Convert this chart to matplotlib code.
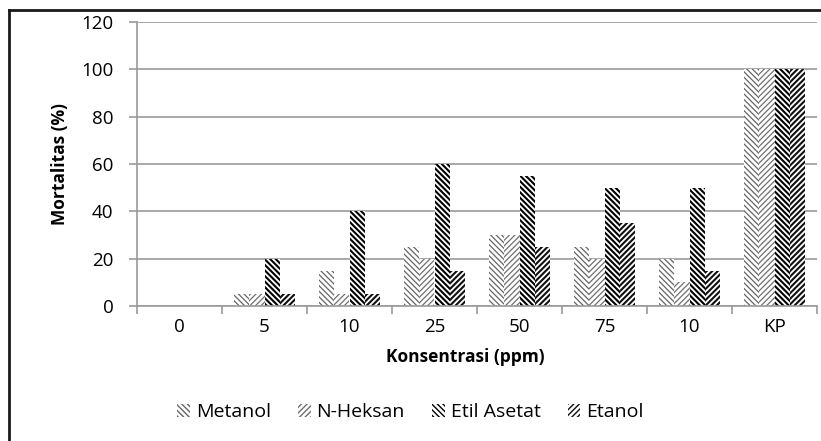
import numpy as np
import matplotlib
matplotlib.use("Agg")
import matplotlib.pyplot as plt
from matplotlib.lines import Line2D

plt.rcParams["font.family"] = ["Open Sans", "DejaVu Sans"]

categories = ["0", "5", "10", "25", "50", "75", "10", "KP"]
metanol = [0, 5, 15, 25, 30, 25, 20, 100]
n_heksan = [0, 5, 5, 20, 30, 20, 10, 100]
etil_asetat = [0, 20, 40, 60, 55, 50, 50, 100]
etanol = [0, 5, 5, 15, 25, 35, 15, 100]

# name, values, hatch, hatch colour, hatch line width
series = [
    ("Metanol", metanol, "\\" * 6, "#666666", 0.9),
    ("N-Heksan", n_heksan, "/" * 6, "#707070", 0.9),
    ("Etil Asetat", etil_asetat, "\\" * 6, "#000000", 1.5),
    ("Etanol", etanol, "/" * 6, "#101010", 1.5),
]

fig = plt.figure(figsize=(8.21, 4.41), dpi=100)
ax = fig.add_axes([137 / 821, 1 - 306 / 441, 680 / 821, 284 / 441])

x = np.arange(len(categories))
w = 0.182
for i, (name, vals, hatch, col, hlw) in enumerate(series):
    with plt.rc_context({"hatch.linewidth": hlw}):
        ax.bar(x + (i - 1.5) * w, vals, w, facecolor="white", edgecolor=col,
               hatch=hatch, linewidth=0, label=name)

ax.set_xlim(-0.5, len(categories) - 0.5)
ax.set_ylim(0, 120)
ax.set_yticks(np.arange(0, 121, 20))
ax.yaxis.grid(True, color="#9a9a9a", linewidth=1.2)
ax.set_axisbelow(True)

ax.set_xticks(x)
ax.set_xticklabels(categories, fontsize=13.5)
ax.set_xticks(np.arange(-0.5, len(categories), 1), minor=True)
ax.tick_params(axis="x", which="major", length=0, pad=9)
ax.tick_params(axis="x", which="minor", length=6, color="#9a9a9a", width=1.2)
ax.tick_params(axis="y", length=6, color="#9a9a9a", width=1.2, pad=11, labelsize=13.5)

for s in ["top", "right"]:
    ax.spines[s].set_visible(False)
for s in ["left", "bottom"]:
    ax.spines[s].set_color("#9a9a9a")
    ax.spines[s].set_linewidth(1.2)

ax.set_xlabel("Konsentrasi (ppm)", fontsize=12.5, fontweight="bold", labelpad=8)
ax.xaxis.label.set_x(0.483)
ax.set_ylabel("Mortalitas (%)", fontsize=12.5, fontweight="bold", labelpad=9)

handles, labels = ax.get_legend_handles_labels()
fig.legend(handles, labels, loc="center", bbox_to_anchor=(0.5, 1 - 412 / 441),
           ncol=4, frameon=False, fontsize=14, handlelength=0.65,
           handleheight=0.65, handletextpad=0.3, columnspacing=1.4)

# chart border (top and left edges)
fig.add_artist(Line2D([9 / 821, 9 / 821], [0, 1 - 10 / 441],
                      transform=fig.transFigure, color="#1a1a1a", linewidth=2))
fig.add_artist(Line2D([9 / 821, 1], [1 - 10 / 441, 1 - 10 / 441],
                      transform=fig.transFigure, color="#1a1a1a", linewidth=2))

fig.savefig("out.png", dpi=100)
